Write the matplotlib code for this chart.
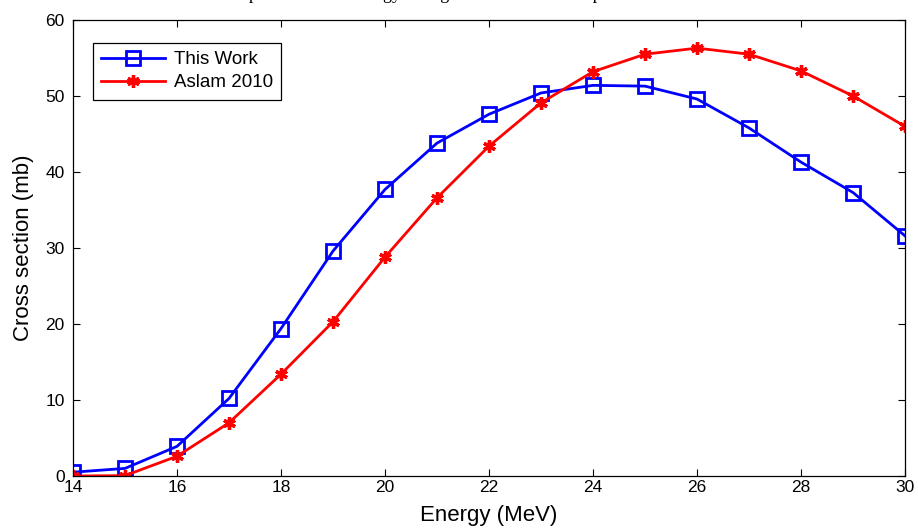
import matplotlib
matplotlib.use("Agg")
import matplotlib.pyplot as plt

energy = [14, 15, 16, 17, 18, 19, 20, 21, 22, 23, 24, 25, 26, 27, 28, 29, 30]
this_work = [0.5, 1.0, 3.9, 10.2, 19.4, 29.6, 37.7, 43.8, 47.6, 50.4, 51.4, 51.3, 49.6, 45.8, 41.3, 37.3, 31.6]
aslam_2010 = [0.0, 0.05, 2.6, 7.0, 13.4, 20.3, 28.8, 36.6, 43.4, 49.1, 53.2, 55.5, 56.3, 55.5, 53.3, 50.0, 46.0]
labels = ["This Work", "Aslam 2010"]
xticks = [14, 16, 18, 20, 22, 24, 26, 28, 30]
yticks = [0, 10, 20, 30, 40, 50, 60]
title = "Comparison of the energy fitting via TALYS with experimental data"

plt.rcParams['font.family'] = ['Liberation Sans', 'DejaVu Sans']

fig = plt.figure(figsize=(9.18, 5.30), dpi=100)
ax = fig.add_axes([73/918, (530-476)/530, (905-73)/918, (476-20)/530])

ax.plot(energy, this_work, color='#0000ff', lw=2, marker='s', ms=10,
        mfc='none', mec='#0000ff', mew=2, label=labels[0])
ax.plot(energy, aslam_2010, color='#ff0000', lw=2, marker=(6, 2, 0), ms=9,
        mec='#ff0000', mew=2.4, label=labels[1])

ax.set_xlim(14, 30)
ax.set_ylim(0, 60)
ax.set_xticks(xticks)
ax.set_yticks(yticks)
ax.tick_params(direction='in', top=True, right=True, labelsize=12.5, length=5, width=0.8)
ax.tick_params(axis='x', pad=3)
ax.tick_params(axis='y', pad=6)
for s in ax.spines.values():
    s.set_linewidth(0.9)

ax.set_xlabel("Energy (MeV)", fontsize=16, labelpad=7)
ax.set_ylabel("Cross section (mb)", fontsize=16, labelpad=8)

leg = ax.legend(loc='upper left', bbox_to_anchor=(0.024, 0.95), fontsize=13.5,
                fancybox=False, framealpha=1, edgecolor='black', handlelength=3.4,
                handletextpad=0.45, borderpad=0.45, labelspacing=0.3, borderaxespad=0)
leg.get_frame().set_linewidth(0.9)

fig.text(0.5, 1.0 + 1/530, title, ha='center', va='baseline',
         fontsize=13, family=['Liberation Serif'])

fig.savefig("out.png", dpi=100)
